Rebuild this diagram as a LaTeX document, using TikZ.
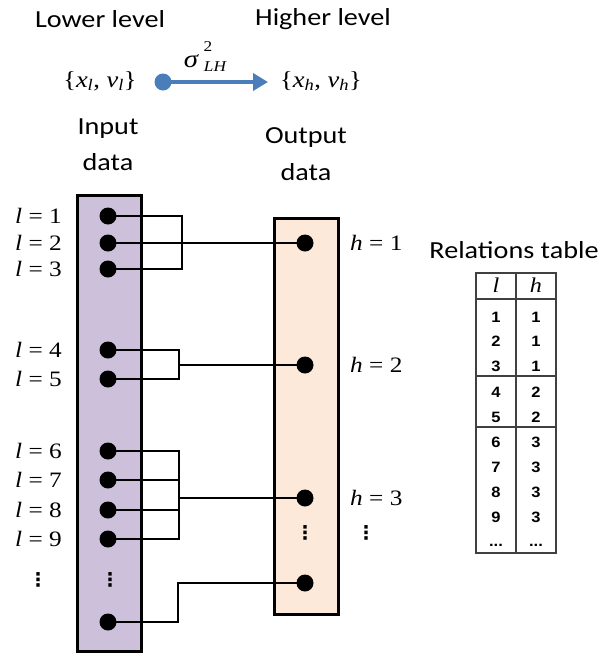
\documentclass[tikz,border=0pt]{standalone}
\usepackage{fontspec}
\usetikzlibrary{arrows.meta}
\setmainfont{Carlito}[FakeStretch=1.15]
\newfontfamily\tms{Liberation Serif}[FakeStretch=1.15]
\newfontfamily\arl{Liberation Sans}[FakeStretch=1.1]
\newfontfamily\djv{DejaVu Sans}
\definecolor{lav}{RGB}{204,192,218}
\definecolor{peach}{RGB}{253,233,217}
\definecolor{arrowblue}{RGB}{74,126,187}
\begin{document}
\begin{tikzpicture}[x=1pt,y=-1pt,
  lbl/.style={inner sep=0pt,font=\fontsize{24.5}{28}\selectfont},
  mth/.style={inner sep=0pt,font=\fontsize{22}{26}\selectfont\tms},
  box/.style={draw,line width=3pt,inner sep=0pt},
  dot/.style={circle,fill=black,inner sep=0pt,minimum size=17pt},
  conn/.style={line width=2.6pt},
  vd/.style={inner sep=0pt,font=\fontsize{19}{20}\selectfont\djv\bfseries},
  tnum/.style={inner sep=0pt,font=\fontsize{15}{16}\selectfont\arl\bfseries},
  tline/.style={line width=1.3pt,black!75}]
\useasboundingbox (0,0) rectangle (604,654);

% top labels
\node[lbl] (lower) at (100,19) {Lower level};
\node[lbl] (higher) at (323,19) {Higher level};
\node[mth,font=\fontsize{23}{26}\selectfont\tms] (xl) at (100,81) {\{\textit{x}\textsubscript{\textit{l}}, \textit{v}\textsubscript{\textit{l}}\}};
\node[mth,font=\fontsize{23}{26}\selectfont\tms] (xh) at (321,81) {\{\textit{x}\textsubscript{\textit{h}}, \textit{v}\textsubscript{\textit{h}}\}};
\node[dot,fill=arrowblue,minimum size=17pt] (bdot) at (163,82) {};
\coordinate (btip) at (268,82);
\draw[arrowblue,line width=4pt,-{Triangle[length=15pt,width=17pt]}] (bdot.center) -- (btip);
\node[mth,font=\fontsize{25}{26}\selectfont\tms\itshape] (sig) at (191,61) {σ};
\node[mth,font=\fontsize{15}{16}\selectfont\tms] (sigsup) at (208,47) {2};
\node[mth,font=\fontsize{15}{16}\selectfont\tms\itshape] (sigsub) at (215,67) {LH};

\node[lbl] (inp1) at (108,129) {Input};
\node[lbl] (inp2) at (108,162) {data};
\node[lbl] (out1) at (306,138) {Output};
\node[lbl] (out2) at (306,172) {data};

% boxes
\node[box,fill=lav,minimum width=64pt,minimum height=456pt] (inbox) at (109.5,423.5) {};
\node[box,fill=peach,minimum width=64pt,minimum height=396pt] (outbox) at (306.5,416.5) {};

% input dots
\node[dot] (l1) at (108,216) {};
\node[dot] (l2) at (108,243) {};
\node[dot] (l3) at (108,269) {};
\node[dot] (l4) at (108,350) {};
\node[dot] (l5) at (108,379) {};
\node[dot] (l6) at (108,451) {};
\node[dot] (l7) at (108,480) {};
\node[dot] (l8) at (108,510) {};
\node[dot] (l9) at (108,539) {};
\node[dot] (l10) at (108,622) {};
% output dots
\node[dot] (h1) at (305,243) {};
\node[dot] (h2) at (305,365) {};
\node[dot] (h3) at (305,498) {};
\node[dot] (h4) at (305,583) {};

% connectors
\coordinate (b1) at (182,243);
\coordinate (b2) at (179,365);
\coordinate (b3) at (179,498);
\coordinate (b4) at (178,583);
\draw[conn] (l1.center) -| (b1);
\draw[conn] (l3.center) -| (b1);
\draw[conn] (l2.center) -- (h1.center);
\draw[conn] (l4.center) -| (b2);
\draw[conn] (l5.center) -| (b2);
\draw[conn] (b2) -- (h2.center);
\draw[conn] (l6.center) -| (b3);
\draw[conn] (l9.center) -| (b3);
\draw[conn] (l7.center) -- (l7.center -| b3);
\draw[conn] (l8.center) -- (l8.center -| b3);
\draw[conn] (b3) -- (h3.center);
\draw[conn] (l10.center) -| (b4) -- (h4.center);

% l labels
\foreach \i/\y in {1/216,2/243,3/269,4/350,5/379,6/451,7/480,8/510,9/539}
  \node[mth,anchor=east] (ll\i) at (62,\y) {\textit{l} = \i};
\node[vd] (lvd) at (38,580) {⋮};
\node[vd] (ivd) at (110,580) {⋮};
% h labels
\node[mth,anchor=west] (hl1) at (350,243) {\textit{h} = 1};
\node[mth,anchor=west] (hl2) at (350,365) {\textit{h} = 2};
\node[mth,anchor=west] (hl3) at (350,498) {\textit{h} = 3};
\node[vd] (ovd) at (305,533) {⋮};
\node[vd] (rvd) at (366,533) {⋮};

% relations table
\node[lbl] (rt) at (514,250) {Relations table};
\draw[tline] (476,273) rectangle (556,553);
\draw[tline] (516,273) -- (516,553);
\draw[tline] (476,299) -- (556,299);
\draw[tline] (476,376) -- (556,376);
\draw[tline] (476,427) -- (556,427);
\node[mth,font=\fontsize{21}{22}\selectfont\tms\itshape] (thl) at (496,285) {l};
\node[mth,font=\fontsize{21}{22}\selectfont\tms\itshape] (thh) at (536,285) {h};
\foreach \i/\h/\y in {1/1/317,2/1/341,3/1/366,4/2/392,5/2/417,6/3/442,7/3/467,8/3/492,9/3/517}{
  \node[tnum] (tl\i) at (496,\y) {\i};
  \node[tnum] (th\i) at (536,\y) {\h};
}
\node[tnum] (tldots) at (496,545) {...};
\node[tnum] (thdots) at (536,545) {...};
\end{tikzpicture}
\end{document}
